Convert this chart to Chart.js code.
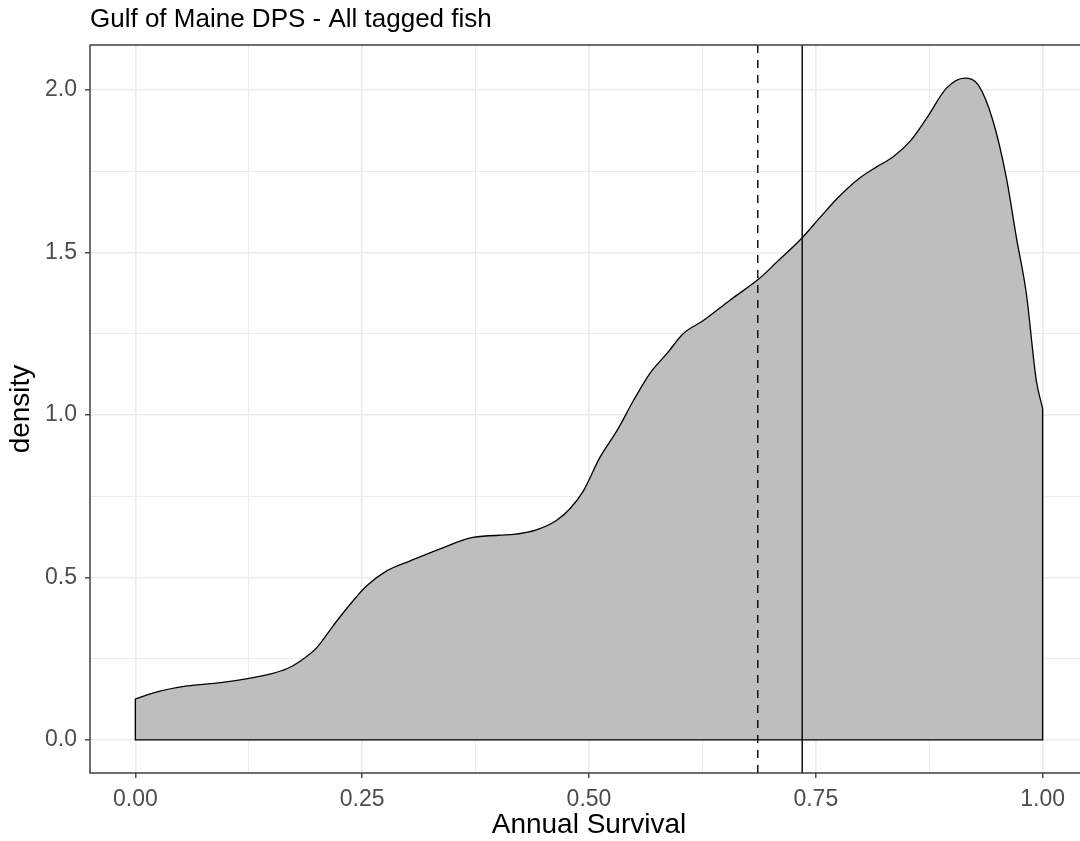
<!DOCTYPE html>
<html>
<head>
<meta charset="utf-8">
<script src="https://cdn.jsdelivr.net/npm/chart.js@4.4.1/dist/chart.umd.min.js"></script>
<style>
  html, body { margin: 0; padding: 0; background: #ffffff; overflow: hidden; width: 1080px; height: 841px; }
  #wrap { position: absolute; left: 0; top: 0; width: 1100px; height: 841px; }
</style>
</head>
<body>
<div id="wrap"><canvas id="c" width="1100" height="841"></canvas></div>
<script>
// ---- data ----
const titleText = "Gulf of Maine DPS - All tagged fish";
const xTitle = "Annual Survival";
const yTitle = "density";

const survival = [0.000, 0.020, 0.057, 0.094, 0.127, 0.149, 0.167, 0.182, 0.200, 0.218,
                  0.237, 0.255, 0.277, 0.303, 0.336, 0.372, 0.417, 0.442, 0.464, 0.479,
                  0.494, 0.512, 0.531, 0.549, 0.567, 0.586, 0.604, 0.626, 0.655, 0.688,
                  0.707, 0.735, 0.754, 0.774, 0.798, 0.817, 0.835, 0.855, 0.873, 0.894,
                  0.914, 0.929, 0.945, 0.960, 0.971, 0.982, 0.993, 1.000];
const density  = [0.126, 0.145, 0.166, 0.176, 0.190, 0.203, 0.219, 0.243, 0.284, 0.351,
                  0.418, 0.474, 0.520, 0.551, 0.588, 0.623, 0.632, 0.646, 0.675, 0.711,
                  0.767, 0.869, 0.952, 1.044, 1.127, 1.189, 1.250, 1.290, 1.352, 1.420,
                  1.470, 1.545, 1.605, 1.667, 1.728, 1.763, 1.793, 1.845, 1.916, 2.005,
                  2.036, 2.015, 1.907, 1.730, 1.547, 1.374, 1.106, 1.020];

const dashedLineX = 0.686;   // dashed reference line
const solidLineX  = 0.735;   // solid reference line

const xLimits = [-0.05, 1.05];
const yLimits = [-0.1018, 2.1378];
const xTicks = [0, 0.125, 0.25, 0.375, 0.5, 0.625, 0.75, 0.875, 1.0];
const xMajorTicks = [0, 0.25, 0.5, 0.75, 1.0];
const yTicks = [0, 0.25, 0.5, 0.75, 1.0, 1.25, 1.5, 1.75, 2.0];
const yMajorTicks = [0, 0.5, 1.0, 1.5, 2.0];

// ---- build chart ----
const FONT = "'Liberation Sans', Arial, 'DejaVu Sans', sans-serif";
const curvePts = survival.map((x, i) => ({ x: x, y: density[i] }));
const n = survival.length;
const edgePts = [
  { x: survival[0], y: density[0] },
  { x: survival[0], y: 0 },
  { x: survival[n - 1], y: 0 },
  { x: survival[n - 1], y: density[n - 1] }
];
const isMajor = (v, majors) => majors.some(m => Math.abs(m - v) < 1e-9);

const panelBorder = {
  id: 'panelBorder',
  afterDraw(chart) {
    const { ctx, chartArea: a } = chart;
    ctx.save();
    ctx.strokeStyle = '#333333';
    ctx.lineWidth = 1.4;
    ctx.strokeRect(a.left, a.top, a.right - a.left, a.bottom - a.top);
    ctx.restore();
  }
};

new Chart(document.getElementById('c'), {
  type: 'scatter',
  data: {
    datasets: [
      {
        label: 'dashed',
        type: 'line',
        data: [{ x: dashedLineX, y: yLimits[0] }, { x: dashedLineX, y: yLimits[1] }],
        borderColor: '#111111',
        borderWidth: 1.5,
        borderDash: [8, 7],
        pointRadius: 0,
        fill: false,
        order: 0
      },
      {
        label: 'solid',
        type: 'line',
        data: [{ x: solidLineX, y: yLimits[0] }, { x: solidLineX, y: yLimits[1] }],
        borderColor: '#111111',
        borderWidth: 1.5,
        pointRadius: 0,
        fill: false,
        order: 0
      },
      {
        label: 'edges',
        type: 'line',
        data: edgePts,
        borderColor: '#000000',
        borderWidth: 1.4,
        pointRadius: 0,
        tension: 0,
        fill: false,
        order: 1
      },
      {
        label: 'density',
        type: 'line',
        data: curvePts,
        borderColor: '#000000',
        borderWidth: 1.3,
        backgroundColor: '#BEBEBE',
        fill: 'origin',
        pointRadius: 0,
        cubicInterpolationMode: 'monotone',
        order: 2
      }
    ]
  },
  options: {
    responsive: false,
    animation: false,
    layout: { padding: { left: 0, right: 12, top: 0, bottom: 0 } },
    plugins: {
      legend: { display: false },
      tooltip: { enabled: false },
      title: {
        display: true,
        text: titleText,
        align: 'start',
        fullSize: false,
        color: '#000000',
        font: { family: FONT, size: 26, weight: 'normal', lineHeight: 1.2 },
        padding: { top: 4, bottom: 9.8 }
      }
    },
    scales: {
      x: {
        type: 'linear',
        min: xLimits[0],
        max: xLimits[1],
        afterBuildTicks: s => { s.ticks = xTicks.map(v => ({ value: v })); },
        afterFit: s => { s.height = 68; },
        border: { display: false },
        grid: {
          color: '#EBEBEB',
          lineWidth: c => isMajor(c.tick.value, xMajorTicks) ? 1.6 : 1.0,
          tickColor: c => isMajor(c.tick.value, xMajorTicks) ? '#333333' : 'rgba(0,0,0,0)',
          tickLength: 5,
          tickWidth: 1.3
        },
        ticks: {
          autoSkip: false,
          maxRotation: 0,
          padding: 8,
          color: '#4D4D4D',
          font: { family: FONT, size: 23 },
          callback: v => isMajor(v, xMajorTicks) ? v.toFixed(2) : ''
        },
        title: {
          display: true,
          text: xTitle,
          color: '#000000',
          font: { family: FONT, size: 28, lineHeight: 1.1 },
          padding: { top: 0, bottom: 0 }
        }
      },
      y: {
        type: 'linear',
        min: yLimits[0],
        max: yLimits[1],
        afterBuildTicks: s => { s.ticks = yTicks.map(v => ({ value: v })); },
        afterFit: s => { s.width = 90; },
        border: { display: false },
        grid: {
          color: '#EBEBEB',
          lineWidth: c => isMajor(c.tick.value, yMajorTicks) ? 1.6 : 1.0,
          tickColor: c => isMajor(c.tick.value, yMajorTicks) ? '#333333' : 'rgba(0,0,0,0)',
          tickLength: 5,
          tickWidth: 1.3
        },
        ticks: {
          autoSkip: false,
          padding: 8,
          color: '#4D4D4D',
          font: { family: FONT, size: 23 },
          callback: v => isMajor(v, yMajorTicks) ? v.toFixed(1) : ''
        },
        title: {
          display: true,
          text: yTitle,
          color: '#000000',
          font: { family: FONT, size: 28, lineHeight: 1.2 },
          padding: { top: 4, bottom: 0 }
        }
      }
    }
  },
  plugins: [panelBorder]
});
</script>
</body>
</html>
